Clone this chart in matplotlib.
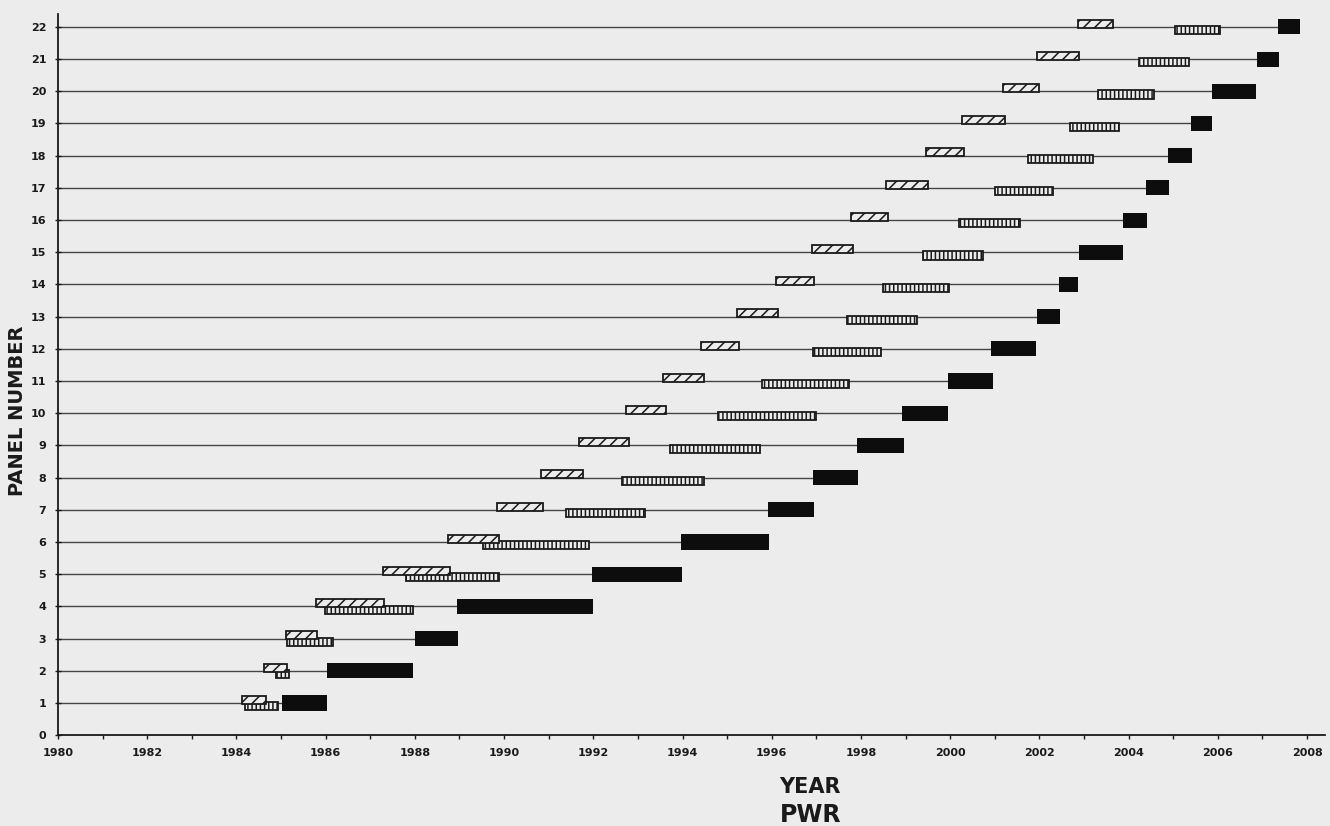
import numpy as np
import matplotlib
matplotlib.use("Agg")
import matplotlib.pyplot as plt

BG = "#ececec"
INK = "#1a1a1a"

panels = list(range(1, 23))
# hatched (diagonal) periods, sitting just above each panel line
hatch_start = [1984.13, 1984.62, 1985.10, 1985.78, 1987.29, 1988.75, 1989.84, 1990.83,
               1991.68, 1992.74, 1993.57, 1994.42, 1995.22, 1996.10, 1996.90, 1997.78,
               1998.57, 1999.46, 2000.27, 2001.19, 2001.95, 2002.87]
hatch_end = [1984.66, 1985.13, 1985.80, 1987.31, 1988.79, 1989.89, 1990.87, 1991.77,
             1992.80, 1993.63, 1994.48, 1995.27, 1996.14, 1996.95, 1997.83, 1998.61,
             1999.51, 2000.31, 2001.23, 2002.00, 2002.89, 2003.65]
# vertically ruled periods, just below each line
dot_start = [1984.20, 1984.89, 1985.13, 1985.99, 1987.80, 1989.53, 1991.39, 1992.65,
             1993.72, 1994.80, 1995.78, 1996.93, 1997.69, 1998.50, 1999.39, 2000.20,
             2001.00, 2001.75, 2002.69, 2003.32, 2004.24, 2005.04]
dot_end = [1984.93, 1985.18, 1986.17, 1987.96, 1989.89, 1991.90, 1993.16, 1994.48,
           1995.74, 1997.00, 1997.74, 1998.45, 1999.26, 1999.98, 2000.74, 2001.57,
           2002.30, 2003.21, 2003.79, 2004.57, 2005.36, 2006.05]
# solid black periods, centred on the line (line stops here)
black_start = [1985.02, 1986.03, 1988.00, 1988.95, 1991.97, 1993.97, 1995.92, 1996.93,
               1997.91, 1998.92, 1999.96, 2000.92, 2001.95, 2002.44, 2002.89, 2003.88,
               2004.39, 2004.89, 2005.40, 2005.87, 2006.88, 2007.35]
black_end = [1986.03, 1987.96, 1988.97, 1992.00, 1993.99, 1995.94, 1996.95, 1997.94,
             1998.97, 1999.96, 2000.97, 2001.93, 2002.47, 2002.87, 2003.88, 2004.42,
             2004.91, 2005.43, 2005.87, 2006.86, 2007.38, 2007.83]

plt.rcParams.update({"hatch.linewidth": 1.1, "font.family": "DejaVu Sans",
                     "font.weight": "bold"})

fig = plt.figure(figsize=(13.3, 8.26), dpi=100, facecolor=BG)
ax = fig.add_axes([0.0436, 0.110, 0.9526, 0.873], facecolor=BG)

p = np.array(panels)
hs, he = np.array(hatch_start), np.array(hatch_end)
ds, de = np.array(dot_start), np.array(dot_end)
bs, be = np.array(black_start), np.array(black_end)

# panel lines from 1980 up to the black bar
ax.hlines(p, 1980, bs, color="#454545", linewidth=1.0, zorder=1)

ax.barh(p + 0.10, he - hs, left=hs, height=0.25, facecolor=BG, edgecolor=INK,
        hatch="///", linewidth=1.3, zorder=3)
ax.barh(p - 0.10, de - ds, left=ds, height=0.25, facecolor=BG, edgecolor=INK,
        hatch="||||", linewidth=1.3, zorder=2)
ax.barh(p, be - bs, left=bs, height=0.47, color="#0d0d0d", zorder=4)

ax.set_xlim(1980, 2008.4)
ax.set_ylim(0, 22.4)
ax.set_xticks(range(1980, 2009, 2))
ax.set_xticks(range(1981, 2009, 2), minor=True)
ax.set_yticks(range(0, 23))
ax.tick_params(axis="x", which="both", direction="out", length=3, width=1,
               color=INK, labelsize=8, pad=6, labelcolor=INK)
ax.tick_params(axis="y", direction="inout", length=5, width=1, color=INK,
               labelsize=8, pad=6, labelcolor=INK)
for s in ("top", "right"):
    ax.spines[s].set_visible(False)
for s in ("left", "bottom"):
    ax.spines[s].set_color(INK)
    ax.spines[s].set_linewidth(1.3)

fig.text(18 / 1330, 1 - 411 / 826, "PANEL NUMBER", rotation=90, ha="center",
         va="center", fontsize=14, fontweight="bold", color=INK)
fig.text(810 / 1330, 1 - 787 / 826, "YEAR", ha="center", va="center",
         fontsize=15, fontweight="bold", color=INK)
fig.text(811 / 1330, 1 - 815 / 826, "PWR", ha="center", va="center",
         fontsize=17, fontweight="bold", color=INK)

fig.savefig("out.png", dpi=100, facecolor=BG)
